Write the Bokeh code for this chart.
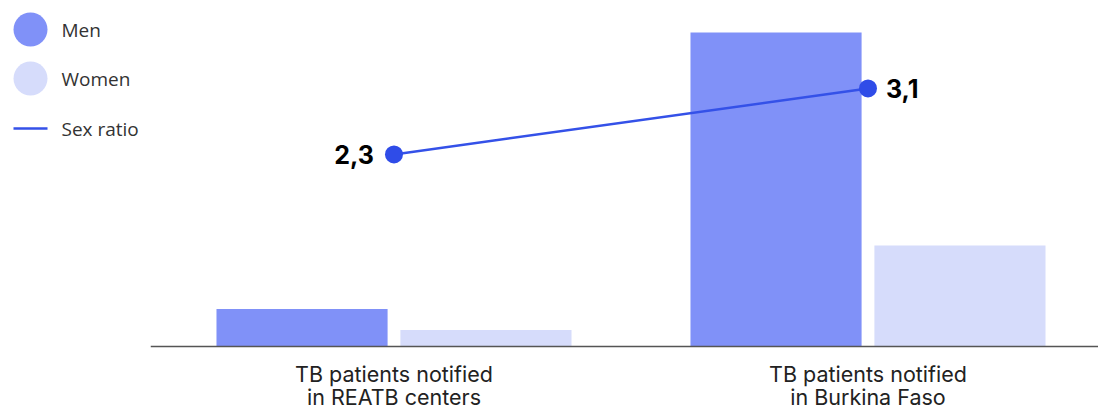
from bokeh.plotting import figure
from bokeh.layouts import row
from bokeh.models import ColumnDataSource, Range1d, Span
from bokeh.transform import dodge
from bokeh.core.properties import value
from bokeh.embed import file_html
from bokeh.resources import INLINE

# Data
categories = ["TB patients notified\nin REATB centers",
              "TB patients notified\nin Burkina Faso"]
men = [37.5, 314]
women = [16.5, 101]
sex_ratio = [2.3, 3.1]
legend_labels = ["Men", "Women", "Sex ratio"]

MEN_COLOR = "#8091f8"
WOMEN_COLOR = "#d6dcfb"
LINE_COLOR = "#3451e8"
DOT_COLOR = "#2f4ce8"

idx = list(range(len(categories)))
bars = ColumnDataSource(dict(x=idx, men=men, women=women))
ratio_labels = [f"{v:.1f}".replace(".", ",") for v in sex_ratio]

# Main chart: the frame covers the whole canvas, the band below zero holds
# the category names
p = figure(width=948, height=408, output_backend="svg", toolbar_location=None,
           x_range=Range1d(-0.5137, 1.4863), y_range=Range1d(-62, 346),
           min_border=0, x_axis_location=None, y_axis_location=None)
p.outline_line_color = None
p.xgrid.visible = False
p.ygrid.visible = False
p.background_fill_color = "white"
p.border_fill_color = "white"

p.vbar(x=dodge("x", -0.194, range=p.x_range), top="men", width=0.361,
       source=bars, color=MEN_COLOR, line_color=None)
p.vbar(x=dodge("x", 0.194, range=p.x_range), top="women", width=0.361,
       source=bars, color=WOMEN_COLOR, line_color=None)

# Baseline
p.add_layout(Span(location=0, dimension="width", line_color="#555555",
                  line_width=1.5))

p.extra_y_ranges = {"ratio": Range1d(-0.779, 4.166)}
ratio = ColumnDataSource(dict(x=idx, r=sex_ratio))
p.line(x="x", y="r", source=ratio, y_range_name="ratio",
       line_color=LINE_COLOR, line_width=2.5)
p.scatter(x="x", y="r", source=ratio, y_range_name="ratio", size=18,
          fill_color=DOT_COLOR, line_color=None)

left_src = ColumnDataSource(dict(x=idx[:1], r=sex_ratio[:1], lab=ratio_labels[:1]))
right_src = ColumnDataSource(dict(x=idx[1:], r=sex_ratio[1:], lab=ratio_labels[1:]))
p.text(x="x", y="r", text="lab", source=left_src, y_range_name="ratio",
       x_offset=-20, text_align="right", text_baseline="middle",
       text_font=value("Inter"), text_font_style="bold",
       text_font_size="25px", text_color="#000000")
p.text(x="x", y="r", text="lab", source=right_src, y_range_name="ratio",
       x_offset=18, text_align="left", text_baseline="middle",
       text_font=value("Inter"), text_font_style="bold",
       text_font_size="25px", text_color="#000000")

cat_src = ColumnDataSource(dict(x=idx, y=[0] * len(idx), name=categories))
p.text(x="x", y="y", text="name", source=cat_src, y_offset=39,
       text_align="center", text_baseline="middle",
       text_font=value("Inter"), text_font_size="21.5px",
       text_color="#222222", text_line_height=0.9)

# Legend panel
lg = figure(width=150, height=408, output_backend="svg", toolbar_location=None,
            x_range=Range1d(0, 150), y_range=Range1d(408, 0),
            min_border=0, x_axis_location=None, y_axis_location=None)
lg.outline_line_color = None
lg.xgrid.visible = False
lg.ygrid.visible = False
lg.border_fill_color = "white"

item_y = [29, 78, 128]
lg.scatter(x=[30, 30], y=item_y[:2], size=34,
           fill_color=[MEN_COLOR, WOMEN_COLOR], line_color=None)
lg.segment(x0=[13], y0=[item_y[2]], x1=[47], y1=[item_y[2]],
           line_color=LINE_COLOR, line_width=2.5)
lg.text(x=[61] * 3, y=item_y, text=legend_labels, text_baseline="middle",
        text_font=value("Open Sans"), text_font_size="19px",
        text_color="#333333")

layout = row(lg, p, spacing=0)
open("out.html", "w").write(file_html(layout, INLINE))
